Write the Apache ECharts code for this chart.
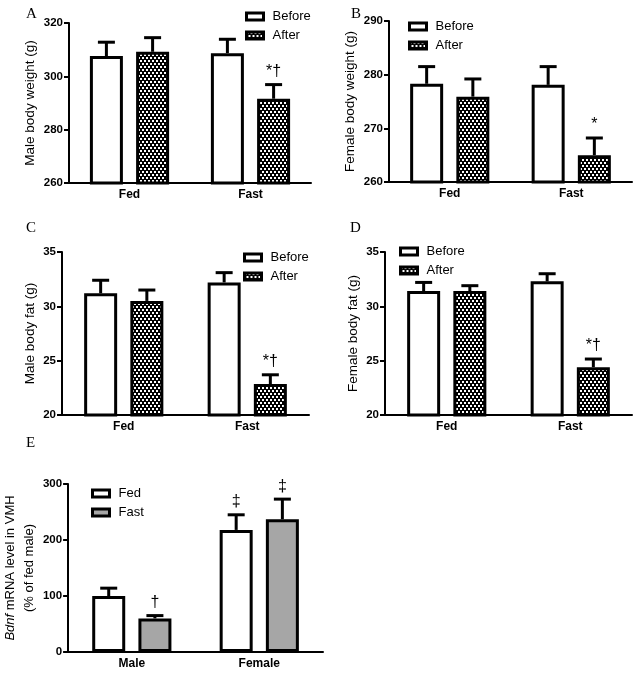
<!DOCTYPE html>
<html><head><meta charset="utf-8">
<script src="https://cdn.jsdelivr.net/npm/echarts@6/dist/echarts.min.js"></script>
<style>html,body{margin:0;padding:0;background:#fff}#c{width:641px;height:677px}</style>
</head><body><div id="c"></div>
<script>
// ---------- data ----------
const groups = ['Fed', 'Fast'];
const sexes = ['Male', 'Female'];

// A: male body weight (g)
const maleWeightTicks = [260, 280, 300, 320];
const maleWeightBefore = [307.6, 308.7];
const maleWeightBeforeSem = [5.2, 5.2];
const maleWeightAfter = [309.2, 291.6];
const maleWeightAfterSem = [5.3, 5.3];
const maleWeightMarks = ['', '*†'];

// B: female body weight (g)
const femaleWeightTicks = [260, 270, 280, 290];
const femaleWeightBefore = [278.3, 278.1];
const femaleWeightBeforeSem = [3.2, 3.4];
const femaleWeightAfter = [275.9, 265.0];
const femaleWeightAfterSem = [3.3, 3.2];
const femaleWeightMarks = ['', '*'];

// C: male body fat (g)
const maleFatTicks = [20, 25, 30, 35];
const maleFatBefore = [31.2, 32.2];
const maleFatBeforeSem = [1.2, 0.9];
const maleFatAfter = [30.5, 22.85];
const maleFatAfterSem = [1.0, 0.85];
const maleFatMarks = ['', '*†'];

// D: female body fat (g)
const femaleFatTicks = [20, 25, 30, 35];
const femaleFatBefore = [31.4, 32.3];
const femaleFatBeforeSem = [0.8, 0.7];
const femaleFatAfter = [31.4, 24.4];
const femaleFatAfterSem = [0.5, 0.75];
const femaleFatMarks = ['', '*†'];

// E: Bdnf mRNA (% of fed male)
const bdnfTicks = [0, 100, 200, 300];
const bdnfFed = [100, 218];
const bdnfFedSem = [14, 27];
const bdnfFast = [60, 237];
const bdnfFastSem = [5, 36];
const bdnfFedMarks = ['', '‡'];
const bdnfFastMarks = ['†', '‡'];

// ---------- styling ----------
const FONT = '"Liberation Sans", Arial, sans-serif';
const BAR_W = 33;
const GAP_PCT = 40;
const OFFSET = (BAR_W + BAR_W * GAP_PCT / 100) / 2;

function makePattern() {
  const c = document.createElement('canvas');
  c.width = 4; c.height = 6;
  const g = c.getContext('2d');
  g.fillStyle = '#000'; g.fillRect(0, 0, 4, 6);
  g.fillStyle = '#fff';
  g.fillRect(0, 0, 2, 2);
  g.fillRect(2, 3, 2, 2);
  return { image: c, repeat: 'repeat' };
}
const pattern = makePattern();
const WHITE = '#ffffff';
const GRAY = '#a6a6a6';

const panels = [
  { letter: 'A', grid: {left: 69, top: 23, width: 242, height: 160}, cats: groups, ticks: maleWeightTicks,
    name: 'Male body weight (g)', nameGap: 23, nameSize: 13.5, legendPos: {left: 245, top: 9},
    s: [['Before', maleWeightBefore, maleWeightBeforeSem, WHITE, ['', '']],
        ['After', maleWeightAfter, maleWeightAfterSem, pattern, maleWeightMarks]] },
  { letter: 'B', grid: {left: 389, top: 21, width: 243, height: 161}, cats: groups, ticks: femaleWeightTicks,
    name: 'Female body weight (g)', nameGap: 24, nameSize: 13.5, legendPos: {left: 408, top: 19},
    s: [['Before', femaleWeightBefore, femaleWeightBeforeSem, WHITE, ['', '']],
        ['After', femaleWeightAfter, femaleWeightAfterSem, pattern, femaleWeightMarks]] },
  { letter: 'C', grid: {left: 62, top: 252, width: 247, height: 163}, cats: groups, ticks: maleFatTicks,
    name: 'Male body fat (g)', nameGap: 18, nameSize: 13.5, legendPos: {left: 243, top: 250},
    s: [['Before', maleFatBefore, maleFatBeforeSem, WHITE, ['', '']],
        ['After', maleFatAfter, maleFatAfterSem, pattern, maleFatMarks]] },
  { letter: 'D', grid: {left: 385, top: 252, width: 247, height: 163}, cats: groups, ticks: femaleFatTicks,
    name: 'Female body fat (g)', nameGap: 16, nameSize: 13.5, legendPos: {left: 399, top: 244},
    s: [['Before', femaleFatBefore, femaleFatBeforeSem, WHITE, ['', '']],
        ['After', femaleFatAfter, femaleFatAfterSem, pattern, femaleFatMarks]] },
  { letter: 'E', grid: {left: 67, top: 484, width: 256, height: 168}, cats: sexes, ticks: bdnfTicks,
    name: '{i|Bdnf} mRNA level in VMH\n(% of fed male)', nameGap: 22, nameSize: 13, legendPos: {left: 91, top: 486},
    s: [['Fed', bdnfFed, bdnfFedSem, WHITE, bdnfFedMarks],
        ['Fast', bdnfFast, bdnfFastSem, GRAY, bdnfFastMarks]] }
];
const letterPos = [[26, 7], [351, 7], [26, 221], [350, 221], [26, 436]];

const option = {
  animation: false,
  backgroundColor: '#fff',
  grid: [], xAxis: [], yAxis: [], legend: [], series: [],
  graphic: []
};

function errSeries(gi, means, sems, sign, marks) {
  return {
    type: 'custom', xAxisIndex: gi, yAxisIndex: gi, z: 5, clip: false, silent: true,
    data: means.map((m, i) => [i, m, sems[i]]),
    renderItem(params, api) {
      const i = api.value(0), m = api.value(1), s = api.value(2);
      const base = api.coord([i, m]);
      const top = api.coord([i, m + s]);
      const x = base[0] + sign * OFFSET;
      const half = 8.5;
      const children = [
        {type: 'line', shape: {x1: x, y1: base[1], x2: x, y2: top[1]}, style: {stroke: '#000', lineWidth: 3}},
        {type: 'line', shape: {x1: x - half, y1: top[1], x2: x + half, y2: top[1]}, style: {stroke: '#000', lineWidth: 3}}
      ];
      const mk = marks[params.dataIndex];
      if (mk) children.push({type: 'text', x: x, y: top[1] - 5,
        style: {text: mk, fill: '#000', font: '16px ' + FONT, align: 'center', verticalAlign: 'bottom'}});
      return {type: 'group', children};
    }
  };
}

panels.forEach((p, gi) => {
  option.grid.push(Object.assign({containLabel: false}, p.grid));
  option.xAxis.push({
    type: 'category', gridIndex: gi, data: p.cats,
    axisLine: {lineStyle: {color: '#000', width: 2}},
    axisTick: {alignWithLabel: true, length: 5, lineStyle: {color: '#000', width: 2}},
    axisLabel: {color: '#000', fontWeight: 'bold', fontSize: 12, fontFamily: FONT, margin: 6},
    splitLine: {show: false}
  });
  const t = p.ticks;
  option.yAxis.push({
    type: 'value', gridIndex: gi, min: t[0], max: t[t.length - 1], interval: t[1] - t[0],
    name: p.name, nameLocation: 'middle', nameGap: p.nameGap, nameRotate: 90,
    nameTextStyle: {color: '#000', fontSize: p.nameSize, fontFamily: FONT, lineHeight: 19,
      rich: {i: {fontStyle: 'italic', fontSize: p.nameSize, fontFamily: FONT, color: '#000'}}},
    axisLine: {show: true, lineStyle: {color: '#000', width: 2}},
    axisTick: {show: true, length: 5, lineStyle: {color: '#000', width: 2}},
    axisLabel: {color: '#000', fontWeight: 'bold', fontSize: 11.5, fontFamily: FONT, margin: 6},
    splitLine: {show: false}
  });
  option.legend.push({
    left: p.legendPos.left, top: p.legendPos.top, orient: 'vertical',
    data: p.s.map(s => s[0]), icon: 'rect', itemWidth: 17, itemHeight: 7, itemGap: 4,
    padding: 0, selectedMode: false,
    itemStyle: {borderColor: '#000', borderWidth: 3},
    textStyle: {color: '#000', fontSize: 13, fontFamily: FONT, lineHeight: 15, padding: [0, 0, 0, 4]}
  });
  p.s.forEach((s) => {
    option.series.push({
      type: 'bar', name: s[0], xAxisIndex: gi, yAxisIndex: gi, data: s[1],
      barWidth: BAR_W, barGap: GAP_PCT + '%', clip: true,
      itemStyle: {color: s[3], borderColor: '#000', borderWidth: 3}
    });
  });
  p.s.forEach((s, k) => {
    option.series.push(errSeries(gi, s[1], s[2], k === 0 ? -1 : 1, s[4]));
  });
  option.graphic.push({type: 'text', left: letterPos[gi][0], top: letterPos[gi][1],
    style: {text: p.letter, fill: '#000', font: '15px "Liberation Serif", "Times New Roman", serif'}});
});

const chart = echarts.init(document.getElementById('c'), null, {renderer: 'canvas'});
chart.setOption(option);
</script>
</body></html>
